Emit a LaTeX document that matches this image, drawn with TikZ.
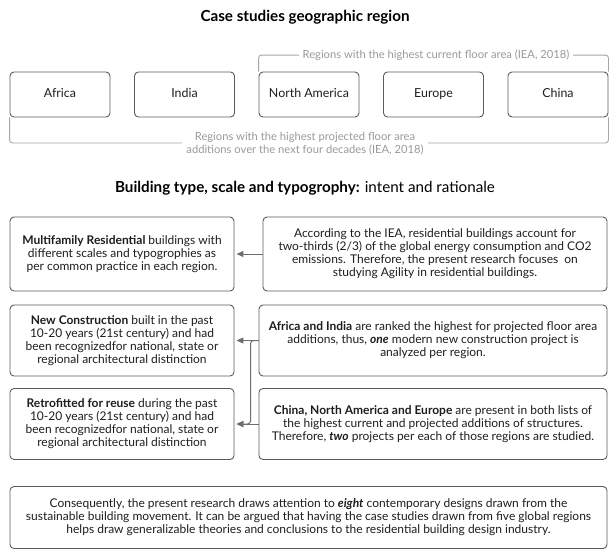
\documentclass[tikz,border=0pt]{standalone}
\usepackage{fontspec}
\setmainfont{Lato}
\usetikzlibrary{arrows.meta}
\definecolor{boxc}{HTML}{5C5C5C}
\definecolor{arrc}{HTML}{6E6E6E}
\definecolor{brkc}{HTML}{A6A6A6}
\definecolor{lblc}{HTML}{9A9A9A}
\definecolor{txtc}{HTML}{1E1E1E}
\tikzset{
  rbox/.style={draw=boxc, line width=0.9pt, rounded corners=4pt, minimum width=100pt, minimum height=45pt, inner sep=0pt, text height=9pt, text depth=3pt, text=txtc, font=\fontsize{12.4}{14}\selectfont},
  tbox/.style={draw=boxc, line width=0.9pt, rounded corners=4pt, inner sep=0pt, align=center, text=txtc, font=\fontsize{12}{13}\selectfont},
  brk/.style={draw=brkc, line width=0.9pt, rounded corners=3pt},
  lbl/.style={fill=white, text=lblc, inner xsep=4pt, inner ysep=1pt, align=center, font=\fontsize{11.2}{13.5}\selectfont},
  ttl/.style={text=black, font=\fontsize{15.2}{17}\selectfont},
  arr/.style={draw=arrc, line width=1pt, -{Triangle[length=7pt,width=6pt]}, shorten >=2pt}
}
\begin{document}
\begin{tikzpicture}[x=1pt,y=-1pt]
\useasboundingbox[fill=white] (0,0) rectangle (610,550);
% title 1
\node[ttl] (t1) at (305,17) {\textbf{Case studies geographic region}};
% region boxes
\node[rbox] (africa) at (60,94.5) {Africa};
\node[rbox] (india) at (184.5,94.5) {India};
\node[rbox] (na) at (309,94.5) {North America};
\node[rbox] (europe) at (433.5,94.5) {Europe};
\node[rbox] (china) at (558,94.5) {China};
% brackets
\draw[brk] (na.north west) -- ([yshift=16.5pt]na.north west) -- ([yshift=16.5pt]china.north east) -- (china.north east);
\node[lbl] (lbltop) at (436,55.5) {Regions with the highest current floor area (IEA, 2018)};
\draw[brk] (africa.south west) -- ([yshift=-25.5pt]africa.south west) -- ([yshift=-25.5pt]china.south east) -- (china.south east);
\node[lbl] (lblbot) at (305,143.5) {Regions with the highest projected floor area\\additions over the next four decades (IEA, 2018)};
% title 2
\node[ttl] (t2) at (305,188) {\textbf{Building type, scale and typogrophy:} intent and rationale};
% boxes
\node[tbox, minimum width=224pt, minimum height=74pt] (mr) at (122,254) {\textbf{Multifamily Residential} buildings with\\different scales and typogrophies as\\per common practice in each region.};
\node[tbox, minimum width=344pt, minimum height=74pt] (iea) at (435,254) {According to the IEA, residential buildings account for\\two-thirds (2/3) of the global energy consumption and CO2\\emissions. Therefore, the present research focuses\ \ on\\studying Agility in residential buildings.};
\node[tbox, minimum width=224pt, minimum height=71pt] (newc) at (122,340.5) {\textbf{New Construction} built in the past\\10-20 years (21st century) and had\\been recognizedfor national, state or\\regional architectural distinction};
\node[tbox, minimum width=348pt, minimum height=71pt] (afin) at (433,340.5) {\textbf{Africa and India} are ranked the highest for projected floor area\\additions, thus, \textbf{\textit{one}} modern new construction project is\\analyzed per region.};
\node[tbox, minimum width=224pt, minimum height=71pt] (retro) at (122,424) {\textbf{Retrofitted for reuse} during the past\\10-20 years (21st century) and had\\been recognizedfor national, state or\\regional architectural distinction};
\node[tbox, minimum width=348pt, minimum height=71pt] (cne) at (433,424) {\textbf{China, North America and Europe} are present in both lists of\\the highest current and projected additions of structures.\\Therefore, \textbf{\textit{two}} projects per each of those regions are studied.};
\node[tbox, minimum width=597pt, minimum height=62pt] (final) at (308.5,517.5) {Consequently, the present research draws attention to \textbf{\textit{eight}} contemporary designs drawn from the\\sustainable building movement. It can be argued that having the case studies drawn from five global regions\\helps draw generalizable theories and conclusions to the residential building design industry.};
% connectors
\draw[arr] (iea.west) -- (mr.east);
\draw[arr] (afin.west) -- (newc.east);
\draw[arr] (cne.west) -- (retro.east);
\draw[arr, rounded corners=3pt] (afin.west) -- ++(-8,0) |- (retro.east);
\end{tikzpicture}
\end{document}
